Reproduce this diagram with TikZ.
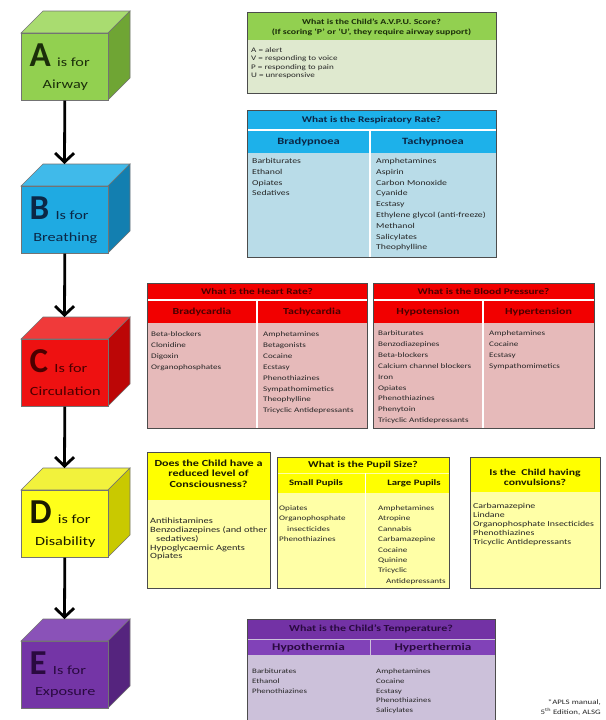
\documentclass[tikz,border=0pt]{standalone}
\usepackage{fontspec}
\setmainfont{Carlito}[FakeStretch=1.3]
\newfontfamily\letterfont{Carlito}
\usetikzlibrary{arrows.meta}
\definecolor{gA}{HTML}{92D050}\definecolor{gAt}{HTML}{A9DC70}\definecolor{gAs}{HTML}{6FA534}
\definecolor{bB}{HTML}{1FAAE2}\definecolor{bBt}{HTML}{40BAEA}\definecolor{bBs}{HTML}{137FB0}
\definecolor{rC}{HTML}{EE1111}\definecolor{rCt}{HTML}{F03A3A}\definecolor{rCs}{HTML}{BC0606}
\definecolor{yD}{HTML}{FFFF1A}\definecolor{yDt}{HTML}{F2F23C}\definecolor{yDs}{HTML}{C9C900}
\definecolor{pE}{HTML}{7435A6}\definecolor{pEt}{HTML}{8A52B8}\definecolor{pEs}{HTML}{55247E}
\definecolor{tA}{HTML}{1B2E0A}\definecolor{tB}{HTML}{0B2746}\definecolor{tC}{HTML}{4A0000}
\definecolor{tD}{HTML}{1A1A00}\definecolor{tE}{HTML}{2A0A40}
\definecolor{hG}{HTML}{92D050}\definecolor{bG}{HTML}{DFE9CF}
\definecolor{hB}{HTML}{1DB1EA}\definecolor{bBl}{HTML}{B9DCE8}
\definecolor{hR}{HTML}{F20000}\definecolor{bR}{HTML}{E6BABA}
\definecolor{hY}{HTML}{FFFF00}\definecolor{bY}{HTML}{FFFFA6}
\definecolor{hP}{HTML}{7332A5}\definecolor{hP2}{HTML}{8142B8}\definecolor{bP}{HTML}{CCC1DA}
\newcommand{\abcube}[9]{%
  \fill[#4, draw=black!55, line width=0.6pt] (21,#2) -- (43,#2-22) -- (130,#2-22) -- (108,#2) -- cycle;
  \fill[#5, draw=black!55, line width=0.6pt] (108,#2) -- (130,#2-22) -- (130,#2+45) -- (108,#2+67) -- cycle;
  \node[cubefront, fill=#3, anchor=north west] (#1) at (21,#2) {};
  \coordinate (#1top) at (64.5,#2-22);
  \node[bigletter, text=#6, anchor=base west] (#1L) at ([xshift=-35.5pt,yshift=0.5pt]#1.center) {#7};
  \node[isfor, text=#6, anchor=base west] (#1I) at ([xshift=6pt]#1L.base east) {#8};
  \node[cubeword, text=#6] (#1W) at ([xshift=0.5pt,yshift=-18pt]#1.center) {#9};
}
\tikzset{
  cubefront/.style={draw=black!55, line width=0.6pt, minimum width=87pt, minimum height=67pt, inner sep=0pt},
  bigletter/.style={font=\letterfont\fontsize{35}{35}\selectfont\bfseries, inner sep=0pt},
  isfor/.style={font=\fontsize{12.5}{12.5}\selectfont, inner sep=0pt},
  cubeword/.style={font=\fontsize{12.5}{13}\selectfont, inner sep=0pt},
  flowarrow/.style={line width=2.8pt, -{Straight Barb[length=9pt,width=19pt]}},
  tborder/.style={draw=black!70, line width=0.9pt},
  sep/.style={draw=white, line width=1.1pt},
  htitle/.style={font=\fontsize{8.7}{10}\selectfont\bfseries, inner sep=0pt, align=center},
  hsub/.style={font=\fontsize{9.2}{11}\selectfont\bfseries, inner sep=0pt},
  blist/.style={font=\fontsize{7}{10.9}\selectfont, inner sep=0pt, anchor=north west, align=left, text=black!85},
  slist/.style={font=\fontsize{8}{8.8}\selectfont, inner sep=0pt, anchor=north west, align=left, text=black!85},
}
\begin{document}
\begin{tikzpicture}[x=1pt,y=-1pt]
\clip (0,0) rectangle (605,720);
\fill[white] (0,0) rectangle (605,720);
% cubes
\abcube{A}{33}{gA}{gAt}{gAs}{tA}{A}{is for}{Airway}
\abcube{B}{186}{bB}{bBt}{bBs}{tB}{B}{Is for}{Breathing}
\abcube{C}{339}{rC}{rCt}{rCs}{tC}{C}{Is for}{Circulation}
\abcube{D}{490}{yD}{yDt}{yDs}{tD}{D}{is for}{Disability}
\abcube{E}{641}{pE}{pEt}{pEs}{tE}{E}{Is for}{Exposure}
\draw[flowarrow] (A.south) -- (Btop);
\draw[flowarrow] (B.south) -- (Ctop);
\draw[flowarrow] (C.south) -- (Dtop);
\draw[flowarrow] (D.south) -- (Etop);
% A table
\fill[bG] (247,12) rectangle (496,93);
\fill[hG] (247,12) rectangle (496,40);
\draw[tborder] (247,12) rectangle (496,93);
\node[htitle, font=\fontsize{7.6}{10}\selectfont\bfseries, text=tA] (Atitle) at (371.5,27.5) {What is the Child's A.V.P.U. Score?\\(If scoring `P' or `U', they require airway support)};
\node[slist, font=\fontsize{7}{8.4}\selectfont] (Alist) at (251,47.5) {A = alert\\V = responding to voice\\P = responding to pain\\U = unresponsive};
% B table
\fill[bBl] (247,110) rectangle (496,257);
\fill[hB] (247,110) rectangle (496,153);
\draw[sep] (247,130) -- (496,130);
\draw[sep] (370,130) -- (370,257);
\draw[tborder] (247,110) rectangle (496,257);
\node[htitle, text=tB] (Btitle) at (371.5,120) {What is the Respiratory Rate?};
\node[hsub, font=\fontsize{9.6}{11}\selectfont\bfseries, text=tB] (Bbrady) at (308.5,141.5) {Bradypnoea};
\node[hsub, font=\fontsize{9.6}{11}\selectfont\bfseries, text=tB] (Btachy) at (433,141.5) {Tachypnoea};
\node[blist, font=\fontsize{7.5}{10.8}\selectfont] (Bl1) at (252,158) {Barbiturates\\Ethanol\\Opiates\\Sedatives};
\node[blist, font=\fontsize{7.5}{10.8}\selectfont] (Bl2) at (376,158) {Amphetamines\\Aspirin\\Carbon Monoxide\\Cyanide\\Ecstasy\\Ethylene glycol (anti-freeze)\\Methanol\\Salicylates\\Theophylline};
% C heart rate
\fill[bR] (147,283) rectangle (367,428);
\fill[hR] (147,283) rectangle (367,323);
\draw[sep] (147,300) -- (367,300);
\draw[sep] (257,300) -- (257,428);
\draw[tborder] (147,283) rectangle (367,428);
\node[htitle, text=tC] (Ctitle) at (257,291.5) {What is the Heart Rate?};
\node[hsub, text=tC] (Cbrady) at (202,311.5) {Bradycardia};
\node[hsub, text=tC] (Ctachy) at (312,311.5) {Tachycardia};
\node[blist] (Cl1) at (151,331.5) {Beta-blockers\\Clonidine\\Digoxin\\Organophosphates};
\node[blist] (Cl2) at (263,331.5) {Amphetamines\\Betagonists\\Cocaine\\Ecstasy\\Phenothiazines\\Sympathomimetics\\Theophylline\\Tricyclic Antidepressants};
% C blood pressure
\fill[bR] (373,283) rectangle (594,428);
\fill[hR] (373,283) rectangle (594,323);
\draw[sep] (373,300) -- (594,300);
\draw[sep] (483,300) -- (483,428);
\draw[tborder] (373,283) rectangle (594,428);
\node[htitle, text=tC] (Ptitle) at (483.5,291.5) {What is the Blood Pressure?};
\node[hsub, text=tC] (Phypo) at (428,311.5) {Hypotension};
\node[hsub, text=tC] (Phyper) at (538.5,311.5) {Hypertension};
\node[blist] (Pl1) at (378,330.5) {Barbiturates\\Benzodiazepines\\Beta-blockers\\Calcium channel blockers\\Iron\\Opiates\\Phenothiazines\\Phenytoin\\Tricyclic Antidepressants};
\node[blist] (Pl2) at (489,330.5) {Amphetamines\\Cocaine\\Ecstasy\\Sympathomimetics};
% D consciousness
\fill[bY] (147,452) rectangle (270,588);
\fill[hY] (147,452) rectangle (270,500);
\draw[tborder] (147,452) rectangle (270,588);
\node[htitle, font=\fontsize{9.3}{10.5}\selectfont\bfseries, text=tD] (Dtitle) at (208.5,473.5) {Does the Child have a\\reduced level of\\Consciousness?};
\node[slist] (Dl1) at (150,518) {Antihistamines\\Benzodiazepines (and other\\\hspace*{6pt}sedatives)\\Hypoglycaemic Agents\\Opiates};
% D pupils
\fill[bY] (277,457) rectangle (449,588);
\fill[hY] (277,457) rectangle (449,493);
\draw[draw=bY, line width=0.8pt] (277,473) -- (449,473);
\draw[draw=white, line width=0.8pt] (365,473) -- (365,588);
\draw[tborder] (277,457) rectangle (449,588);
\node[htitle, font=\fontsize{9}{10}\selectfont\bfseries, text=tD] (Stitle) at (363,465) {What is the Pupil Size?};
\node[hsub, font=\fontsize{8.3}{10}\selectfont\bfseries, text=tD] (Ssmall) at (316,483) {Small Pupils};
\node[hsub, font=\fontsize{8.3}{10}\selectfont\bfseries, text=tD] (Slarge) at (414,483) {Large Pupils};
\node[blist, font=\fontsize{7}{10.4}\selectfont] (Sl1) at (279,505.5) {Opiates\\Organophosphate\\\hspace*{8pt}insecticides\\Phenothiazines};
\node[blist, font=\fontsize{7}{10.4}\selectfont] (Sl2) at (378,505.5) {Amphetamines\\Atropine\\Cannabis\\Carbamazepine\\Cocaine\\Quinine\\Tricyclic\\\hspace*{8pt}Antidepressants};
% D convulsions
\fill[bY] (470,457) rectangle (600,588);
\fill[hY] (470,457) rectangle (600,492);
\draw[tborder] (470,457) rectangle (600,588);
\node[htitle, font=\fontsize{9}{10.5}\selectfont\bfseries, text=tD] (Vtitle) at (535,477.5) {Is the\ \ Child having\\convulsions?};
\node[slist, font=\fontsize{7.6}{9}\selectfont] (Vl1) at (473,503.5) {Carbamazepine\\Lindane\\Organophosphate Insecticides\\Phenothiazines\\Tricyclic Antidepressants};
% E temperature
\fill[bP] (247,619) rectangle (495,735);
\fill[hP] (247,619) rectangle (495,639);
\fill[hP2] (247,639) rectangle (495,655);
\draw[draw=bP, line width=1pt] (247,639) -- (495,639);
\draw[draw=bP, line width=1pt] (370,639) -- (370,735);
\draw[tborder] (247,619) rectangle (495,735);
\node[htitle, font=\fontsize{9.2}{10}\selectfont\bfseries, text=tE] (Etitle) at (371,628.5) {What is the Child's Temperature?};
\node[hsub, font=\fontsize{10.2}{11}\selectfont\bfseries, text=tE] (Ehypo) at (308.5,647.5) {Hypothermia};
\node[hsub, font=\fontsize{10.2}{11}\selectfont\bfseries, text=tE] (Ehyper) at (433,647.5) {Hyperthermia};
\node[blist, font=\fontsize{6.8}{9.8}\selectfont] (El1) at (252,668.5) {Barbiturates\\Ethanol\\Phenothiazines};
\node[blist, font=\fontsize{6.8}{9.8}\selectfont] (El2) at (376,668.5) {Amphetamines\\Cocaine\\Ecstasy\\Phenothiazines\\Salicylates};
% footnote
\node[font=\fontsize{6.8}{10}\selectfont, inner sep=0pt, anchor=north east, align=right, text=black!85] (foot) at (601,699) {*APLS manual,\\5\textsuperscript{th} Edition, ALSG};
\end{tikzpicture}
\end{document}
